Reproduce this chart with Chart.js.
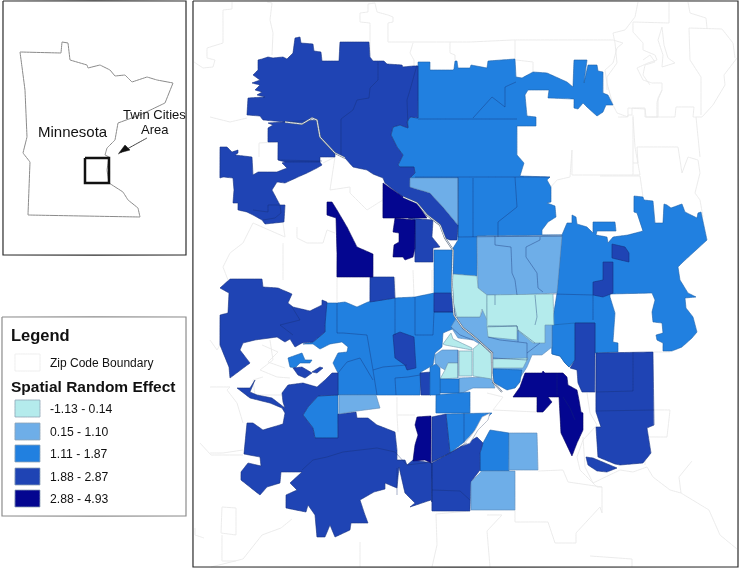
<!DOCTYPE html>
<html>
<head>
<meta charset="utf-8">
<title>Spatial Random Effect</title>
<script src="https://cdn.jsdelivr.net/npm/chart.js@4"></script>
<style>
html, body { margin: 0; padding: 0; background: #fff; }
canvas { display: block; }
</style>
</head>
<body>
<canvas id="map" width="740" height="569"></canvas>
<script>
// Legend classes
const classLabels = ['-1.13 - 0.14', '0.15 - 1.10', '1.11 - 1.87', '1.88 - 2.87', '2.88 - 4.93'];
const classColors = ['#b4ebec', '#6eaee8', '#2180e0', '#1f44b4', '#040690'];
const classLines = ['#6d96ab', '#5a86b4', '#1c5fa8', '#16307f', '#03045e'];

// Zip polygons per class in map units
const band3 = [
  [[418,62],[430,62],[430,70],[453,70],[454,69],[455,61],[457,61],[458,68],[470,68],[471,65],[487,68],[488,61],[515,59],[516,77],[522,78],[533,72],[547,73],[567,82],[573,87],[574,60],[587,60],[584,83],[588,65],[597,65],[598,71],[603,72],[603,93],[608,95],[613,105],[606,105],[603,112],[597,116],[588,108],[583,103],[578,109],[574,108],[574,99],[548,98],[549,90],[528,90],[525,95],[527,116],[536,117],[536,126],[517,126],[517,155],[524,163],[520,176],[550,177],[547,180],[551,187],[551,202],[547,203],[555,206],[556,217],[548,222],[542,230],[542,235],[562,235],[477,236],[477,276],[452,274],[452,250],[458,240],[458,178],[410,178],[415,173],[414,167],[400,167],[398,165],[403,155],[397,147],[391,135],[393,127],[400,125],[408,128],[407,122],[410,117],[418,118]],
  [[562,235],[567,223],[572,223],[572,215],[576,217],[577,224],[587,227],[593,233],[593,222],[615,222],[616,231],[597,231],[596,235],[607,237],[608,243],[613,237],[628,235],[643,231],[637,213],[634,212],[634,196],[643,197],[644,200],[653,201],[655,223],[663,223],[664,204],[667,205],[671,208],[682,204],[685,212],[697,218],[698,213],[701,212],[707,240],[683,262],[678,267],[680,280],[688,293],[696,297],[685,298],[686,308],[693,317],[697,332],[692,338],[682,347],[672,351],[663,351],[663,343],[657,340],[656,335],[663,333],[662,323],[653,322],[652,312],[655,300],[652,293],[610,294],[610,297],[615,313],[613,342],[618,343],[618,352],[595,353],[595,323],[575,323],[575,360],[569,367],[565,363],[560,356],[552,354],[552,325],[557,293]],
  [[434,250],[452,250],[452,312],[455,312],[457,327],[443,333],[442,347],[435,353],[433,365],[421,372],[420,395],[338,395],[338,373],[333,363],[338,353],[347,352],[348,347],[342,342],[330,344],[320,349],[313,344],[303,344],[313,342],[325,332],[325,325],[323,303],[337,303],[345,302],[357,307],[368,302],[395,298],[415,297],[434,293]],
  [[288,358],[302,353],[305,360],[312,360],[310,363],[300,363],[295,368],[290,367]],
  [[318,396],[338,395],[338,438],[315,438],[313,428],[303,415],[308,407]],
  [[446,414],[492,413],[482,423],[463,443],[450,453]],
  [[490,430],[509,433],[509,471],[480,471],[480,453],[483,443]],
  [[575,323],[575,360],[569,367],[565,363],[560,356],[552,354],[552,325]]
];
const band4 = [
  [[258,60],[262,59],[268,57],[273,58],[283,57],[287,59],[293,53],[295,38],[300,37],[301,43],[313,44],[314,51],[321,52],[322,61],[339,61],[340,42],[369,42],[370,57],[373,61],[384,61],[387,64],[402,65],[403,67],[413,66],[418,66],[418,118],[410,117],[407,122],[408,128],[400,125],[393,127],[391,135],[397,147],[403,155],[398,165],[400,167],[414,167],[415,173],[410,178],[410,187],[430,193],[443,207],[458,225],[457,240],[450,240],[445,238],[440,225],[427,215],[417,203],[403,197],[385,183],[383,178],[373,174],[367,170],[353,167],[345,158],[335,153],[320,137],[317,120],[312,118],[302,124],[285,122],[263,120],[260,116],[247,115],[248,98],[265,97],[257,95],[262,92],[255,90],[260,85],[252,83],[260,80],[253,75],[258,70]],
  [[268,123],[317,120],[320,137],[335,153],[335,157],[320,157],[320,162],[285,162],[278,160],[278,142],[268,142],[268,128],[273,125]],
  [[220,147],[227,147],[232,152],[238,150],[238,153],[235,155],[252,157],[253,175],[258,172],[277,172],[287,168],[282,163],[285,162],[320,162],[322,165],[317,168],[307,173],[298,177],[285,183],[277,182],[272,190],[280,205],[285,205],[284,222],[265,224],[262,220],[253,215],[247,212],[238,210],[238,203],[233,203],[234,190],[233,178],[223,177],[220,178]],
  [[408,218],[433,220],[432,237],[440,247],[433,248],[433,262],[415,262],[415,220]],
  [[603,262],[613,262],[613,293],[603,297],[593,295],[593,282],[603,280]],
  [[612,244],[625,247],[629,253],[629,262],[612,258]],
  [[370,277],[394,277],[395,298],[370,302]],
  [[434,293],[451,293],[455,312],[434,312]],
  [[230,279],[262,279],[263,287],[278,288],[292,294],[288,303],[293,307],[310,311],[322,305],[322,300],[327,302],[325,325],[325,332],[313,342],[302,343],[295,347],[290,339],[285,342],[277,337],[255,340],[243,343],[240,350],[250,363],[230,378],[229,367],[220,345],[220,315],[228,313],[229,293],[220,288]],
  [[237,388],[250,388],[255,380],[250,392],[257,395],[272,398],[285,408],[283,402],[282,393],[288,385],[303,383],[310,385],[317,387],[325,380],[332,373],[338,373],[338,395],[318,396],[308,407],[303,415],[313,428],[315,438],[338,438],[338,414],[356,412],[357,418],[368,418],[377,425],[395,432],[397,450],[397,460],[405,460],[407,465],[413,460],[432,463],[432,502],[431,500],[410,507],[415,503],[405,493],[399,467],[397,488],[385,483],[385,489],[374,492],[360,500],[365,515],[368,523],[351,523],[350,530],[335,537],[330,525],[325,537],[317,537],[315,515],[308,505],[306,512],[286,508],[286,495],[297,490],[290,483],[302,472],[281,472],[280,483],[267,487],[260,495],[241,480],[241,472],[248,463],[261,466],[260,457],[244,454],[247,423],[253,423],[263,430],[283,424],[285,413],[282,408],[270,403],[250,398]],
  [[432,417],[446,414],[450,453],[432,462]],
  [[432,463],[450,453],[477,437],[483,443],[480,453],[480,470],[471,482],[470,511],[432,511]],
  [[575,323],[595,323],[595,392],[582,392],[578,383],[577,370],[570,368],[575,360]],
  [[596,353],[653,352],[654,425],[647,428],[651,453],[643,463],[620,465],[615,464],[598,457],[596,427],[601,427],[596,412]],
  [[586,457],[593,458],[617,468],[607,472],[597,471],[588,465]],
  [[293,368],[302,367],[312,373],[305,378],[298,375]],
  [[312,372],[320,367],[323,368],[317,373]],
  [[393,335],[400,332],[414,337],[416,368],[407,370],[405,365],[395,358]],
  [[420,373],[430,372],[431,395],[421,395]]
];
const band2 = [
  [[410,178],[458,178],[458,225],[443,207],[430,193],[410,187]],
  [[477,236],[562,236],[557,293],[517,295],[487,295],[478,288]],
  [[451,327],[457,317],[480,317],[487,300],[552,300],[552,347],[542,355],[532,355],[527,367],[520,378],[515,388],[493,380],[493,352],[473,340],[458,338]],
  [[435,355],[442,350],[458,350],[458,363],[448,363],[445,370],[440,367],[435,363]],
  [[459,378],[487,377],[492,380],[495,388],[473,388],[462,393],[459,393]],
  [[509,433],[537,433],[538,470],[509,470]],
  [[482,471],[515,471],[515,510],[471,510],[471,482]],
  [[339,395],[376,395],[380,408],[357,411],[339,414]]
];
const band1 = [
  [[452,274],[477,276],[478,288],[487,295],[487,320],[482,309],[480,317],[457,317],[452,297]],
  [[487,295],[553,294],[554,325],[545,325],[545,343],[533,343],[517,330],[517,326],[487,327]],
  [[487,327],[517,326],[517,340],[488,337]],
  [[443,344],[451,333],[453,339],[472,348],[472,350],[445,345]],
  [[459,351],[472,351],[472,376],[459,376]],
  [[473,349],[480,343],[491,354],[492,379],[473,376]],
  [[448,363],[458,363],[458,378],[440,379],[445,370]],
  [[493,359],[528,358],[523,368],[493,368]]
];
const band5 = [
  [[383,183],[403,197],[417,203],[427,218],[408,218],[383,218]],
  [[395,218],[415,220],[415,248],[413,257],[405,260],[403,257],[393,257],[394,245],[399,242],[399,233],[393,232]],
  [[327,202],[332,202],[337,210],[347,227],[357,247],[373,254],[373,277],[337,277],[337,253],[336,218],[327,215]],
  [[417,417],[431,416],[431,463],[425,460],[413,461],[415,445],[418,435],[415,425]],
  [[525,373],[542,373],[543,371],[545,373],[563,373],[567,377],[568,385],[577,390],[579,400],[581,412],[583,413],[583,430],[577,443],[572,456],[561,433],[559,397],[548,397],[552,402],[543,412],[537,412],[537,397],[513,397],[520,387]]
];
// patches that sit on top of the lighter ones in the inner city
const band3Top = [
  [[493,369],[522,370],[520,382],[515,388],[507,390],[498,385],[493,382]],
  [[440,379],[459,379],[459,393],[440,393]],
  [[430,367],[436,364],[440,368],[440,395],[430,395]],
  [[436,395],[470,392],[470,413],[436,413]]
];
const lakeHoles = [
  [[490,413],[482,417],[475,430],[470,437],[462,446],[470,443],[478,430],[488,420]]
];

// Darker lines between zips of the same class
const zipLines = [
  [[378,62],[378,80],[370,88],[369,98],[357,100],[353,110],[341,119],[341,155]],
  [[417,65],[410,90],[407,100],[408,127]],
  [[278,160],[322,161]],
  [[253,210],[268,212],[268,205],[280,205],[281,213],[275,218],[263,220]],
  [[418,119],[517,119]],
  [[415,177],[550,177]],
  [[458,177],[458,237]],
  [[473,178],[473,237]],
  [[515,177],[517,207],[498,222],[498,237]],
  [[473,118],[492,97],[505,107],[505,87],[516,82]],
  [[458,237],[562,236]],
  [[495,236],[495,245],[511,247],[512,273],[515,280],[517,295]],
  [[540,237],[540,240],[526,247],[526,257],[537,273],[538,288],[543,292]],
  [[553,294],[593,295],[593,320]],
  [[337,303],[337,333],[343,333],[367,335],[373,370],[377,395]],
  [[395,298],[395,335]],
  [[415,297],[415,335],[433,335],[434,312]],
  [[373,370],[383,367],[407,365]],
  [[395,378],[408,377],[420,375]],
  [[395,378],[396,395]],
  [[338,373],[347,362],[360,358],[373,380]],
  [[292,307],[300,320],[280,325],[293,335]],
  [[397,468],[397,495]],
  [[432,463],[432,502]],
  [[302,470],[313,460],[327,457],[343,452],[377,448],[395,452],[407,465],[432,462],[450,453],[467,443]],
  [[464,413],[464,443]],
  [[432,490],[460,491],[470,500]],
  [[633,352],[633,391],[596,392]],
  [[596,411],[654,410]],
  [[557,373],[557,395]],
  [[563,397],[570,408],[575,420]],
  [[535,295],[537,317],[535,325]],
  [[495,295],[495,305]],
  [[488,326],[517,326],[518,330],[535,343]],
  [[488,337],[500,340],[527,343],[527,360],[493,358]],
  [[518,330],[518,342]],
  [[540,343],[527,353]],
  [[434,312],[455,312]],
  [[458,350],[458,378]],
  [[473,340],[460,335],[451,327]]
];

// The river through the metro
const riverLine = [[285,122],[302,124],[312,118],[317,120],[320,137],[335,153],[345,158]];
const riverLineSouth = [[403,197],[417,203],[427,215],[440,225],[445,238],[453,250],[452,285],[453,302],[454,315],[463,328],[472,335],[480,342],[492,353],[492,372],[493,382],[502,392]];

// Light grey zip boundaries outside the study area
const greyLines = [
  [[267,2],[272,3],[270,20],[273,33],[272,55]],
  [[232,2],[232,9],[223,10],[223,43],[207,48],[207,58],[215,60],[213,67],[203,68],[194,62]],
  [[375,3],[368,4],[368,12],[360,13],[360,22],[370,23],[370,55]],
  [[375,3],[377,12],[388,15],[393,17],[393,22],[388,23],[388,42],[470,42],[513,40],[613,40],[623,43],[617,48],[613,63],[605,70],[607,83],[613,105],[617,113],[628,117],[628,108],[645,109],[645,117],[658,117],[658,98],[662,90]],
  [[450,42],[450,53],[455,55],[455,60]],
  [[413,43],[410,53],[414,60],[414,66]],
  [[516,60],[533,62],[533,72]],
  [[515,40],[515,59]],
  [[618,117],[627,117],[628,115],[632,115],[632,108],[645,108],[646,117],[675,117],[676,107],[694,107],[693,117],[702,117],[713,105],[725,85],[724,75],[737,58]],
  [[701,77],[701,115]],
  [[701,77],[690,60],[689,28],[722,29],[733,43],[735,58]],
  [[707,28],[706,18],[690,13],[688,2]],
  [[657,117],[657,102],[662,90],[662,83],[652,83],[643,80],[637,68],[648,63],[657,60],[655,55],[643,50],[643,43],[633,32],[633,22],[669,23],[669,2]],
  [[638,2],[635,17],[625,30],[613,33],[615,43],[617,63],[607,77],[607,90]],
  [[662,27],[658,40],[663,55],[662,67],[675,63],[668,58],[664,45],[662,27]],
  [[643,60],[650,55],[655,62],[645,65],[643,75],[650,85]],
  [[633,115],[633,175]],
  [[600,176],[640,176],[643,197]],
  [[633,163],[638,163],[637,147],[678,147],[680,160],[682,173],[688,157],[698,160],[700,173],[695,193],[700,200],[703,217]],
  [[696,117],[698,137],[700,157]],
  [[572,150],[570,177],[557,180],[550,188]],
  [[572,150],[572,175],[640,175],[635,147],[633,117]],
  [[210,117],[230,122],[247,118]],
  [[259,143],[259,157]],
  [[278,142],[259,143]],
  [[283,223],[285,237],[253,223],[243,243],[230,253],[223,267],[228,280]],
  [[297,227],[297,238],[307,243],[323,243],[327,230],[335,233]],
  [[283,243],[283,280]],
  [[323,163],[335,157],[333,170],[330,190],[350,187],[350,193],[367,210],[378,203],[383,200]],
  [[337,277],[337,302]],
  [[395,277],[395,298]],
  [[413,270],[414,297]],
  [[432,270],[432,292]],
  [[210,387],[230,387],[227,390],[237,403],[243,423]],
  [[210,453],[223,453],[243,450]],
  [[210,340],[217,350],[220,345]],
  [[263,377],[253,380],[255,395],[282,395]],
  [[270,340],[273,360],[260,370],[277,377],[290,378]],
  [[262,345],[278,352],[268,362],[285,368]],
  [[397,397],[397,415],[415,415]],
  [[397,415],[398,432]],
  [[487,393],[503,397],[493,410],[537,412]],
  [[587,393],[590,413],[597,425],[583,440],[577,457],[580,470],[597,487],[602,487],[602,513],[600,507],[576,533],[576,543],[555,543],[548,522],[515,522],[515,510]],
  [[538,471],[563,470],[568,482],[602,487]],
  [[653,410],[670,410],[667,437],[645,437],[645,465]],
  [[653,352],[670,352]],
  [[583,437],[585,467],[593,483],[620,470],[633,472],[647,467],[653,477],[670,490],[681,493],[709,510],[720,535],[737,549]],
  [[692,461],[679,477],[681,493]],
  [[236,508],[222,507],[221,533],[236,535],[236,508]],
  [[200,443],[211,455],[223,455],[243,455]],
  [[195,528],[195,535],[204,538]],
  [[211,567],[243,559],[262,535],[281,528],[292,519]],
  [[222,535],[222,561],[236,561]],
  [[360,542],[360,567]],
  [[436,514],[437,545],[432,567]],
  [[487,515],[502,515],[487,531],[490,567]],
  [[590,556],[632,559],[632,567]],
  [[470,511],[436,514]]
];

// Locator map
const stateOutline = [[20,52],[61,53],[62,42],[68,43],[70,60],[87,65],[88,68],[100,65],[110,70],[115,76],[125,75],[132,82],[147,77],[157,80],[173,83],[165,103],[140,115],[118,123],[115,140],[107,148],[105,155],[109,157],[107,170],[109,183],[123,192],[128,200],[138,208],[140,217],[28,215],[30,162],[23,153],[27,137],[25,90],[22,67]];
const metroBox = [[85,158],[109,158],[109,183],[85,183]];
const arrowShaft = [[118,154],[147,138]];
const arrowHead = [[119,153],[125,145],[130,150]];

// Frames and legend swatches
const insetFrame = [[3,1],[186,1],[186,255],[3,255]];
const mapFrame = [[193,1],[738,1],[738,567],[193,567]];
const legendFrame = [[2,317],[186,317],[186,516],[2,516]];
const zipSwatch = [[15,354],[40,354],[40,371],[15,371]];
const swatches = [
  [[15,400],[40,400],[40,417],[15,417]],
  [[15,423],[40,423],[40,440],[15,440]],
  [[15,445],[40,445],[40,462],[15,462]],
  [[15,468],[40,468],[40,485],[15,485]],
  [[15,490],[40,490],[40,507],[15,507]]
];

// Text as [string, x, baseline, font]
const regular = 'Liberation Sans, Arial, sans-serif';
const notes = [
  ['Minnesota', 38, 137, '15px ' + regular],
  ['Twin Cities', 123, 119, '13px ' + regular],
  ['Area', 141, 134, '13px ' + regular],
  ['Legend', 11, 341, 'bold 16.5px ' + regular],
  ['Zip Code Boundary', 50, 367, '12px ' + regular],
  ['Spatial Random Effect', 11, 392, 'bold 15.5px ' + regular]
];
const labelBaselines = [413, 436, 458, 481, 503];

const toPoints = (coords, closed) => {
  const pts = coords.map(c => ({ x: c[0], y: c[1] }));
  if (closed) pts.push({ x: coords[0][0], y: coords[0][1] });
  return pts;
};

// tiny tension: with tension 0 Chart.js takes its fast path and merges points per x pixel
const flat = 0.001;

const polygon = (coords, fillColor, lineColor, width) => ({
  data: toPoints(coords, true),
  showLine: true,
  fill: 'shape',
  backgroundColor: fillColor,
  borderColor: lineColor,
  borderWidth: width,
  pointRadius: 0,
  tension: flat
});

const polyline = (coords, lineColor, width) => ({
  data: toPoints(coords, false),
  showLine: true,
  fill: false,
  borderColor: lineColor,
  borderWidth: width,
  pointRadius: 0,
  tension: flat
});

const datasets = [];
greyLines.forEach(l => datasets.push(polyline(l, '#e9e9e9', 0.9)));
const addBand = (zones, idx) => zones.forEach(z => datasets.push(polygon(z, classColors[idx], classLines[idx], 0.6)));
addBand(band3, 2);
addBand(band4, 3);
addBand(band2, 1);
addBand(band1, 0);
addBand(band5, 4);
addBand(band3Top, 2);
lakeHoles.forEach(z => datasets.push(polygon(z, '#ffffff', '#8a94a8', 0.6)));
zipLines.forEach(l => datasets.push(polyline(l, 'rgba(20,45,110,0.55)', 0.7)));
[riverLine, riverLineSouth].forEach(r => {
  datasets.push(polyline(r, '#5a6b80', 1.8));
  datasets.push(polyline(r, '#f4f6f8', 0.9));
});

datasets.push(polyline(stateOutline.concat([stateOutline[0]]), '#8a8a8a', 1));
datasets.push(polygon(metroBox, 'rgba(0,0,0,0)', '#111111', 2.5));
datasets.push(polyline(arrowShaft, '#444444', 1));
datasets.push(polygon(arrowHead, '#111111', '#111111', 0.5));
datasets.push(polygon(insetFrame, 'rgba(0,0,0,0)', '#2b2b2b', 1.2));
datasets.push(polygon(mapFrame, 'rgba(0,0,0,0)', '#2b2b2b', 1.2));
datasets.push(polygon(legendFrame, 'rgba(0,0,0,0)', '#8c8c8c', 1.2));
datasets.push(polygon(zipSwatch, '#ffffff', '#eeeeee', 1));
swatches.forEach((s, i) => datasets.push(polygon(s, classColors[i], '#8fa3b5', 0.8)));

const textPlugin = {
  id: 'mapText',
  afterDatasetsDraw(chart) {
    const ctx = chart.ctx;
    ctx.save();
    ctx.fillStyle = '#111111';
    ctx.textBaseline = 'alphabetic';
    notes.forEach(n => {
      ctx.font = n[3];
      ctx.fillText(n[0], n[1], n[2]);
    });
    ctx.font = '12.2px ' + regular;
    classLabels.forEach((label, i) => ctx.fillText(label, 50, labelBaselines[i]));
    ctx.restore();
  }
};

new Chart(document.getElementById('map').getContext('2d'), {
  type: 'scatter',
  // Chart.js paints the first dataset last, so hand them over back to front
  data: { datasets: datasets.reverse() },
  options: {
    responsive: false,
    animation: false,
    layout: { padding: 0 },
    plugins: { legend: { display: false }, tooltip: { enabled: false }, title: { display: false } },
    scales: {
      x: { type: 'linear', min: 0, max: 740, display: false },
      y: { type: 'linear', min: 0, max: 569, reverse: true, display: false }
    }
  },
  plugins: [textPlugin]
});
</script>
</body>
</html>
